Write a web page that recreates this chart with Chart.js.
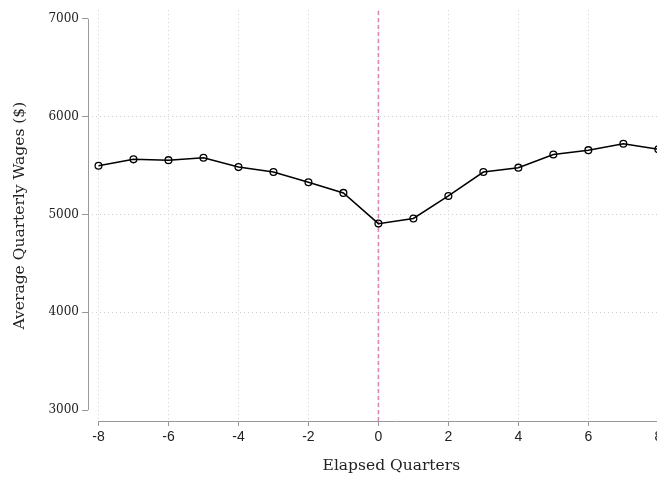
<!DOCTYPE html>
<html>
<head>
<meta charset="utf-8">
<script src="https://cdn.jsdelivr.net/npm/chart.js@4.4.1/dist/chart.umd.min.js"></script>
<style>
  html, body { margin: 0; padding: 0; background: #fff; overflow: hidden; }
  #wrap { width: 657px; height: 480px; overflow: hidden; }
</style>
</head>
<body>
<div id="wrap"><canvas id="myChart" width="700" height="480"></canvas></div>
<script>
// datos
const quarters = [-8, -7, -6, -5, -4, -3, -2, -1, 0, 1, 2, 3, 4, 5, 6, 7, 8];
const wages = [5498, 5563, 5555, 5580, 5484, 5433, 5329, 5220, 4906, 4959, 5189, 5433, 5478, 5613, 5657, 5722, 5667];
const xTicks = [-8, -6, -4, -2, 0, 2, 4, 6, 8];
const yTicks = [3000, 4000, 5000, 6000, 7000];
const eventQuarter = 0;

const yMin = 2888, yMax = 7088;
const serif = 'DejaVu Serif';

// lineas de los ejes al estilo Stata (solo del primer al ultimo tick)
const axisLines = {
    id: 'axisLines',
    beforeDatasetsDraw(chart) {
        const { ctx, chartArea, scales } = chart;
        ctx.save();
        ctx.strokeStyle = '#999';
        ctx.lineWidth = 1;
        ctx.beginPath();
        const xl = Math.round(chartArea.left) + 0.5;
        ctx.moveTo(xl, scales.y.getPixelForValue(yTicks[yTicks.length - 1]));
        ctx.lineTo(xl, scales.y.getPixelForValue(yTicks[0]));
        const yb = Math.round(chartArea.bottom) + 0.5;
        ctx.moveTo(scales.x.getPixelForValue(xTicks[0]), yb);
        ctx.lineTo(chartArea.right, yb);
        ctx.stroke();
        ctx.restore();
    }
};

const ctx = document.getElementById('myChart').getContext('2d');
const myChart = new Chart(ctx, {
    type: 'line',
    data: {
        datasets: [{
            data: quarters.map((q, i) => ({ x: q, y: wages[i] })),
            borderColor: '#000',
            borderWidth: 1.5,
            pointRadius: 3.4,
            pointBorderWidth: 1.3,
            pointBorderColor: '#000',
            pointBackgroundColor: 'rgba(0,0,0,0)',
            tension: 0,
            order: 1
        }, {
            data: [{ x: eventQuarter, y: yMin }, { x: eventQuarter, y: yMax }],
            borderColor: '#e086bb',
            borderWidth: 1.6,
            borderDash: [4, 3],
            pointRadius: 0,
            order: 2
        }]
    },
    plugins: [axisLines],
    options: {
        responsive: false,
        animation: false,
        layout: { padding: { top: 8, left: 0, right: 0, bottom: 0 } },
        plugins: { legend: { display: false }, tooltip: { enabled: false } },
        scales: {
            x: {
                type: 'linear',
                min: -8.3,
                max: 9.04,
                afterBuildTicks: s => { s.ticks = xTicks.map(v => ({ value: v })); },
                afterFit: s => { s.height = 59; s.paddingLeft = 0; s.paddingRight = 0; },
                grid: { color: '#cfcfcf', lineWidth: 1, tickLength: 5, tickColor: '#999' },
                border: { display: false, dash: [1, 3] },
                ticks: {
                    font: { family: 'Liberation Sans Narrow, Liberation Sans', size: 14 },
                    color: '#222',
                    padding: 3,
                    maxRotation: 0
                },
                title: {
                    display: true,
                    text: 'Elapsed Quarters',
                    font: { family: serif, size: 15.5 },
                    color: '#222',
                    padding: { top: 0, bottom: 5 }
                }
            },
            y: {
                min: yMin,
                max: yMax,
                afterBuildTicks: s => { s.ticks = yTicks.map(v => ({ value: v })); },
                afterFit: s => { s.width = 88; },
                grid: {
                    color: c => (c.tick && (c.tick.value === 3000 || c.tick.value === 7000)) ? 'rgba(0,0,0,0)' : '#cfcfcf',
                    lineWidth: 1, tickLength: 6, tickColor: '#999'
                },
                border: { display: false, dash: [1, 3] },
                ticks: {
                    font: { family: serif, size: 12 },
                    color: '#222',
                    padding: 3,
                    callback: v => String(v)
                },
                title: {
                    display: true,
                    text: 'Average Quarterly Wages ($)',
                    font: { family: serif, size: 15.5 },
                    color: '#222',
                    padding: { top: 11, bottom: 0 }
                }
            }
        }
    }
});
</script>
</body>
</html>
